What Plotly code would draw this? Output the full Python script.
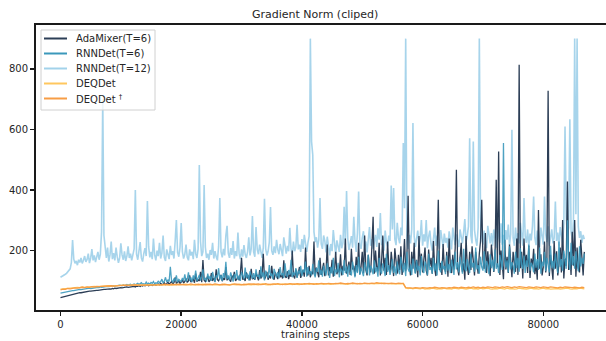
import plotly.graph_objects as go

# ---------------- data ----------------
steps_fine = list(range(0, 86801, 200))
steps_coarse = list(range(0, 86801, 400))

rnn12 = [
    112, 114, 116, 119, 122, 125, 129, 134, 140, 160, 235, 172, 158, 166, 152, 170, 161, 176, 158, 168,
    182, 163, 171, 190, 159, 176, 205, 168, 184, 162, 178, 196, 170, 188, 262, 700, 250, 198, 176, 210,
    164, 186, 230, 172, 192, 168, 210, 180, 160, 176, 224, 186, 170, 198, 166, 182, 214, 176, 190, 168,
    184, 206, 400, 188, 170, 196, 228, 176, 164, 190, 208, 182, 364, 214, 178, 196, 172, 240, 186, 168,
    200, 182, 226, 174, 192, 250, 178, 166, 204, 188, 172, 216, 186, 198, 174, 232, 301, 194, 180, 210,
    291, 196, 174, 188, 220, 178, 168, 204, 184, 196, 172, 236, 190, 176, 206, 483, 230, 182, 196, 417,
    212, 176, 190, 170, 202, 186, 226, 174, 198, 180, 168, 214, 374, 196, 178, 206, 184, 250, 282, 192,
    176, 208, 186, 232, 174, 198, 182, 260, 190, 172, 204, 180, 218, 188, 176, 196, 244, 184, 206, 314,
    196, 180, 278, 204, 188, 220, 192, 176, 210, 371, 206, 184, 198, 228, 344, 200, 186, 214, 192, 236,
    204, 188, 222, 196, 182, 244, 210, 190, 216, 198, 275, 206, 186, 230, 198, 212, 285, 204, 220, 196,
    238, 206, 252, 214, 196, 226, 248, 900, 560, 516, 262, 228, 244, 210, 236, 374, 222, 206, 250, 232,
    194, 246, 204, 184, 222, 198, 268, 210, 186, 234, 216, 196, 252, 208, 226, 345, 218, 397, 240, 202,
    224, 248, 210, 312, 232, 196, 258, 395, 220, 206, 242, 264, 214, 230, 194, 250, 278, 216, 238, 206,
    228, 252, 212, 274, 236, 324, 218, 246, 200, 266, 228, 214, 250, 232, 415, 270, 407, 238, 218, 292,
    242, 224, 276, 250, 555, 340, 900, 228, 206, 252, 224, 270, 621, 248, 212, 238, 266, 220, 242, 301,
    216, 254, 230, 301, 208, 246, 266, 222, 200, 238, 276, 216, 250, 228, 206, 268, 234, 212, 256, 226,
    242, 210, 264, 230, 204, 276, 246, 218, 254, 236, 212, 270, 242, 224, 260, 304, 230, 248, 280, 571,
    250, 224, 560, 268, 236, 216, 276, 900, 310, 242, 220, 266, 232, 208, 282, 246, 224, 258, 216, 270,
    234, 210, 278, 242, 226, 290, 220, 252, 206, 268, 236, 286, 218, 254, 599, 242, 216, 276, 230, 258,
    224, 292, 240, 216, 374, 248, 226, 270, 212, 256, 234, 280, 379, 242, 218, 266, 230, 212, 276, 244,
    220, 379, 254, 228, 280, 216, 248, 270, 224, 242, 362, 232, 260, 216, 278, 246, 226, 288, 610, 310,
    250, 276, 634, 264, 236, 298, 900, 320, 900, 280, 242, 264, 226, 252, 238,
]

rnn6 = [
    60, 61, 62, 63, 63, 64, 65, 66, 66, 67, 68, 68, 69, 70, 70, 71, 72, 71, 72, 73,
    73, 74, 74, 75, 76, 75, 76, 77, 77, 78, 78, 79, 78, 80, 79, 80, 81, 80, 81, 82,
    81, 82, 83, 82, 84, 83, 84, 85, 84, 86, 85, 84, 87, 85, 86, 88, 86, 87, 89, 86,
    88, 90, 87, 89, 92, 88, 90, 94, 89, 91, 88, 96, 90, 93, 89, 95, 92, 98, 90, 94,
    92, 100, 94, 97, 106, 93, 99, 112, 96, 104, 98, 147, 102, 95, 108, 99, 118, 96, 105, 100,
    97, 110, 101, 122, 98, 106, 128, 100, 112, 96, 118, 104, 134, 99, 108, 120, 101, 114, 138, 103,
    110, 98, 124, 106, 116, 100, 130, 108, 96, 118, 112, 142, 104, 120, 100, 126, 110, 163, 106, 118,
    102, 128, 112, 98, 122, 108, 136, 104, 118, 100, 130, 114, 106, 144, 110, 124, 102, 132, 116, 108,
    126, 104, 138, 114, 120, 106, 148, 112, 128, 102, 134, 118, 110, 152, 116, 124, 106, 140, 120, 112,
    130, 108, 146, 118, 126, 110, 158, 122, 114, 136, 120, 170, 112, 128, 118, 142, 110, 134, 124, 150,
    116, 138, 128, 164, 114, 146, 122, 132, 118, 156, 126, 112, 142, 130, 168, 120, 136, 114, 150, 128,
    118, 158, 132, 110, 146, 124, 176, 116, 138, 128, 160, 112, 142, 134, 120, 170, 126, 148, 114, 154,
    130, 118, 164, 138, 112, 152, 126, 180, 120, 144, 132, 116, 162, 136, 124, 186, 118, 150, 140, 122,
    168, 128, 146, 114, 176, 134, 124, 158, 142, 116, 190, 130, 152, 120, 138, 172, 126, 148, 118, 164,
    136, 122, 180, 144, 128, 160, 116, 196, 140, 130, 154, 120, 174, 146, 124, 168, 134, 150, 118, 182,
    140, 126, 164, 152, 120, 190, 136, 146, 124, 176, 132, 158, 118, 200, 142, 128, 166, 138, 150, 122,
    184, 134, 156, 126, 170, 146, 120, 196, 138, 162, 128, 178, 150, 124, 206, 140, 132, 172, 148, 126,
    190, 144, 160, 130, 210, 138, 152, 124, 180, 146, 134, 198, 128, 166, 150, 122, 188, 142, 170, 132,
    204, 140, 158, 126, 186, 150, 136, 555, 180, 144, 168, 128, 214, 138, 162, 150, 124, 196, 142, 176,
    130, 208, 152, 140, 184, 126, 168, 146, 220, 134, 160, 150, 128, 190, 144, 172, 136, 210, 124, 164,
    148, 196, 132, 176, 154, 128, 216, 142, 166, 138, 190, 150, 126, 230, 146, 172, 134, 200, 158, 140,
    300, 168, 136, 226, 152, 182, 140, 198, 160, 132, 214, 148, 176, 156, 190,
]

adamixer = [
    45, 46, 47, 49, 50, 51, 52, 54, 54, 55, 56, 57, 58, 58, 59, 60, 61, 61, 62, 63,
    63, 64, 64, 65, 66, 66, 67, 67, 68, 68, 69, 69, 70, 70, 71, 71, 72, 72, 73, 72,
    73, 74, 73, 75, 74, 76, 75, 76, 77, 76, 78, 77, 78, 79, 78, 80, 79, 80, 81, 80,
    81, 82, 80, 83, 82, 84, 82, 85, 83, 86, 84, 85, 87, 84, 86, 88, 85, 87, 89, 86,
    88, 90, 87, 92, 88, 89, 94, 88, 91, 96, 89, 92, 98, 90, 94, 112, 91, 95, 100, 92,
    96, 104, 93, 98, 108, 95, 100, 118, 96, 102, 106, 94, 124, 98, 104, 100, 130, 96, 169, 102,
    98, 106, 116, 97, 102, 126, 100, 110, 98, 138, 104, 100, 112, 120, 99, 108, 104, 146, 102, 110,
    104, 98, 118, 108, 130, 100, 106, 114, 102, 124, 176, 104, 110, 100, 128, 108, 118, 102, 140, 106,
    110, 104, 126, 116, 102, 136, 108, 120, 190, 106, 114, 130, 104, 118, 108, 150, 112, 104, 128, 116,
    106, 140, 112, 120, 108, 168, 116, 110, 132, 106, 124, 114, 200, 118, 108, 138, 112, 126, 146, 110,
    120, 136, 114, 210, 124, 118, 150, 112, 130, 122, 230, 116, 144, 126, 112, 176, 120, 138, 160, 116,
    132, 220, 118, 146, 126, 170, 114, 136, 196, 122, 140, 128, 188, 118, 150, 134, 240, 124, 144, 164,
    120, 206, 138, 150, 116, 180, 130, 226, 122, 146, 196, 126, 250, 136, 118, 186, 142, 128, 214, 312,
    124, 200, 146, 132, 226, 118, 162, 250, 134, 176, 120, 230, 146, 128, 196, 140, 116, 208, 150, 124,
    186, 136, 214, 120, 160, 238, 132, 176, 381, 150, 118, 196, 140, 226, 126, 170, 112, 248, 144, 190,
    128, 166, 210, 134, 118, 204, 150, 176, 124, 232, 140, 116, 190, 368, 136, 160, 120, 222, 146, 130,
    196, 114, 240, 152, 126, 186, 138, 208, 467, 142, 118, 176, 226, 130, 158, 104, 248, 146, 120, 196,
    136, 214, 164, 118, 196, 150, 124, 190, 232, 368, 170, 140, 258, 126, 198, 146, 116, 220, 160, 130,
    176, 434, 146, 527, 120, 200, 156, 106, 236, 138, 180, 126, 220, 150, 112, 196, 164, 130, 240, 120,
    814, 142, 196, 108, 240, 152, 186, 126, 216, 110, 174, 148, 206, 122, 160, 104, 334, 140, 188, 118,
    146, 230, 128, 172, 728, 116, 186, 154, 104, 232, 140, 198, 118, 156, 210, 128, 301, 108, 174, 150,
    428, 136, 196, 120, 262, 150, 301, 114, 210, 142, 128, 236, 160, 118, 196,
]

deqdet = [
    73, 74, 75, 76, 77, 77, 78, 79, 78, 80, 79, 80, 81, 80, 82, 81, 82, 83, 82, 83,
    84, 83, 84, 85, 84, 85, 86, 85, 86, 85, 86, 87, 86, 87, 86, 87, 86, 88, 87, 86,
    88, 87, 86, 88, 87, 88, 86, 87, 89, 87, 88, 87, 89, 88, 86, 88, 89, 87, 88, 89,
    87, 88, 89, 87, 88, 89, 88, 87, 89, 88, 86, 89, 88, 87, 89, 88, 87, 89, 88, 87,
    89, 88, 87, 89, 90, 88, 87, 89, 88, 90, 89, 88, 90, 88, 89, 90, 88, 90, 89, 88,
    90, 89, 91, 89, 90, 91, 89, 90, 91, 89, 91, 90, 89, 91, 90, 92, 90, 91, 90, 89,
    92, 90, 91, 92, 90, 91, 92, 90, 92, 91, 90, 92, 91, 93, 90, 91, 92, 90, 91, 92,
    91, 90, 92, 77, 75, 76, 74, 76, 75, 74, 76, 73, 75, 74, 76, 75, 73, 75, 74, 76,
    74, 75, 73, 76, 75, 74, 76, 74, 73, 75, 76, 74, 75, 73, 76, 74, 75, 76, 74, 73,
    75, 74, 76, 75, 73, 76, 74, 75, 73, 74, 76, 75, 74, 73, 75, 76, 74, 75, 73, 74,
    76, 74, 75, 73, 74, 76, 75, 73, 74, 75, 76, 74, 73, 75, 74, 76, 75, 74,
]

deqdet_dag = [
    70, 73, 72, 75, 74, 76, 77, 76, 78, 79, 78, 80, 79, 81, 80, 82, 81, 82, 83, 82,
    83, 84, 83, 84, 85, 84, 85, 86, 85, 86, 85, 87, 86, 86, 87, 86, 88, 87, 86, 88,
    87, 88, 87, 89, 88, 87, 89, 88, 87, 89, 88, 89, 87, 88, 90, 88, 87, 89, 88, 87,
    89, 88, 87, 88, 90, 88, 87, 89, 88, 89, 87, 88, 90, 89, 88, 87, 89, 88, 90, 89,
    88, 89, 90, 88, 89, 91, 89, 88, 90, 89, 91, 90, 88, 90, 89, 91, 90, 89, 91, 90,
    89, 91, 90, 92, 90, 89, 91, 90, 92, 91, 90, 92, 91, 90, 92, 91, 93, 91, 90, 92,
    91, 93, 92, 90, 92, 91, 93, 92, 91, 93, 92, 94, 92, 91, 93, 92, 91, 93, 92, 91,
    93, 92, 91, 78, 77, 78, 76, 78, 77, 76, 78, 77, 76, 78, 77, 79, 77, 76, 78, 77,
    76, 78, 77, 79, 78, 77, 79, 78, 77, 79, 78, 80, 78, 79, 77, 79, 78, 80, 79, 78,
    80, 79, 78, 80, 79, 81, 79, 78, 80, 79, 81, 80, 79, 78, 80, 79, 78, 80, 79, 78,
    80, 79, 78, 80, 79, 78, 77, 79, 78, 80, 79, 77, 78, 79, 78, 77, 79, 78,
]

series_names = ["AdaMixer(T=6)", "RNNDet(T=6)", "RNNDet(T=12)", "DEQDet", "DEQDet <sup>†</sup>"]
x_ticks = [0, 20000, 40000, 60000, 80000]
y_ticks = [200, 400, 600, 800]

# ---------------- styling ----------------
C_DARK = "#2c3e56"
C_TEAL = "#3b98bb"
C_LIGHT = "#a2d2ea"
C_YEL = "#ffc75e"
C_ORA = "#f79d45"

W, H = 606, 341
L, R, T, B = 36, 0, 25, 31
PW, PH = W - L - R, H - T - B


def px(x):
    return (x - L) / PW


def py(y):
    return (H - B - y) / PH


def line_trace(xs, ys, color, width, opacity=1.0):
    n = min(len(xs), len(ys))
    return go.Scatter(x=xs[:n], y=ys[:n], mode="lines", line=dict(color=color, width=width),
                      opacity=opacity, showlegend=False, hoverinfo="skip")


fig = go.Figure()
fig.add_trace(line_trace(steps_fine, rnn12, C_LIGHT, 1.6, 0.95))
fig.add_trace(line_trace(steps_fine, adamixer, C_DARK, 1.3))
fig.add_trace(line_trace(steps_fine, rnn6, C_TEAL, 1.3, 0.9))
fig.add_trace(line_trace(steps_coarse, deqdet, C_YEL, 1.3))
fig.add_trace(line_trace(steps_coarse, deqdet_dag, C_ORA, 1.3))

font = "DejaVu Sans, Arial, sans-serif"

# custom legend box (matplotlib style)
x0, x1, y0, y1 = px(41), px(155), py(30), py(110)
fig.add_shape(type="rect", xref="paper", yref="paper", x0=x0, x1=x1, y0=y1, y1=y0,
              fillcolor="rgba(255,255,255,0.8)", line=dict(color="#d0d0d0", width=1), layer="above")
colors = [C_DARK, C_TEAL, C_LIGHT, C_YEL, C_ORA]
for k, (name, col) in enumerate(zip(series_names, colors)):
    yy = py(38.5 + 15 * k)
    fig.add_shape(type="line", xref="paper", yref="paper", x0=px(44), x1=px(67), y0=yy, y1=yy,
                  line=dict(color=col, width=2), layer="above")
    fig.add_annotation(xref="paper", yref="paper", x=px(74), y=yy, text=name, showarrow=False,
                       xanchor="left", yanchor="middle", font=dict(family=font, size=10, color="#262626"))

fig.add_annotation(xref="paper", yref="paper", x=px(315), y=py(15), text="Gradient Norm (cliped)",
                   showarrow=False, xanchor="center", yanchor="middle",
                   font=dict(family=font, size=11, color="#262626"))
fig.add_annotation(xref="paper", yref="paper", x=px(315), y=py(334), text="training steps",
                   showarrow=False, xanchor="center", yanchor="middle",
                   font=dict(family=font, size=10, color="#262626"))

fig.update_layout(
    width=W, height=H, margin=dict(l=L, r=R, t=T, b=B),
    paper_bgcolor="white", plot_bgcolor="white", hovermode=False,
    font=dict(family=font, size=10, color="#262626"),
    xaxis=dict(range=[-4060, 90390], tickvals=x_ticks, ticktext=[str(v) for v in x_ticks],
               showgrid=False, zeroline=False, showline=True, linecolor="#1a1a1a", linewidth=2,
               mirror=True, ticks="outside", ticklen=4, tickwidth=1.5, tickcolor="#1a1a1a",
               tickfont=dict(family=font, size=10, color="#262626")),
    yaxis=dict(range=[4, 945], tickvals=y_ticks, ticktext=[str(v) for v in y_ticks],
               showgrid=False, zeroline=False, showline=True, linecolor="#1a1a1a", linewidth=2,
               mirror=False, ticks="outside", ticklen=4, tickwidth=1.5, tickcolor="#1a1a1a",
               tickfont=dict(family=font, size=10, color="#262626")),
)

fig.write_html("out.html", config={"displayModeBar": False, "staticPlot": True},
               post_script="document.body.style.margin='0';document.body.style.padding='0';document.body.style.overflow='hidden';")
